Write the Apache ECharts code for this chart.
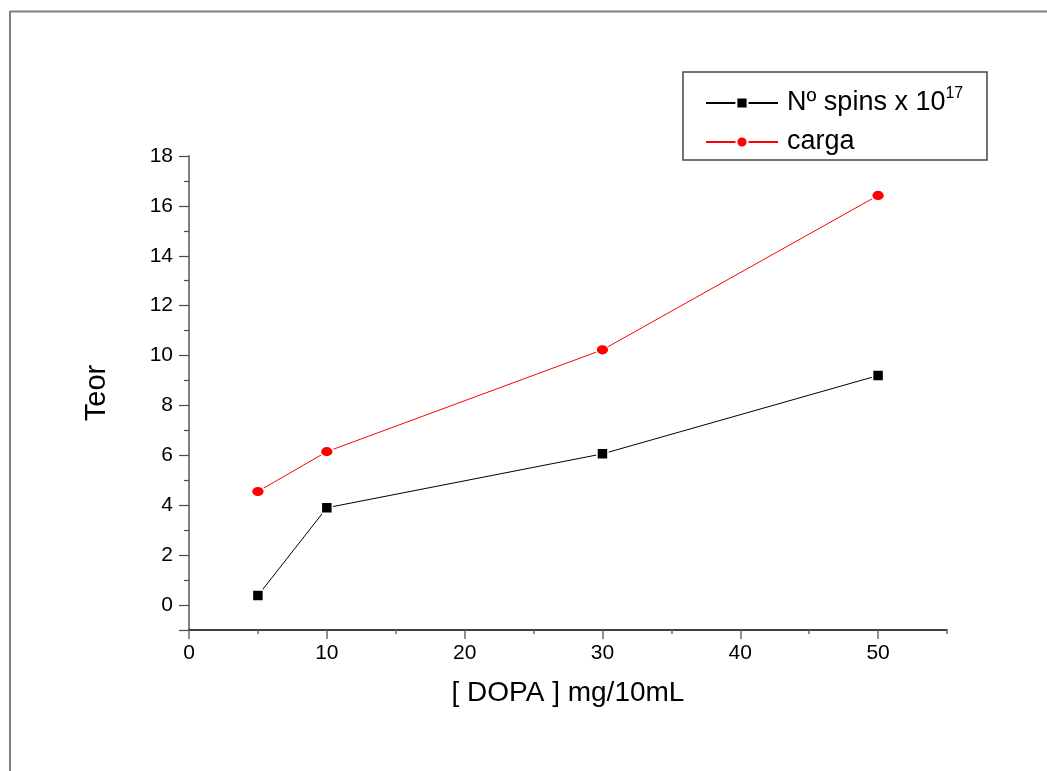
<!DOCTYPE html>
<html>
<head>
<meta charset="utf-8">
<script src="https://cdn.jsdelivr.net/npm/echarts@6/dist/echarts.min.js"></script>
<style>
  html, body { margin: 0; padding: 0; background: #fff; }
  #chart { width: 1047px; height: 771px; }
</style>
</head>
<body>
<div id="chart"></div>
<script>
// DOPA concentration (mg/10mL) and measured series
const dopa = [5, 10, 30, 50];
const spins = [0.38, 3.9, 6.06, 9.2];
const carga = [4.55, 6.15, 10.23, 16.42];

// Axis ticks
const xMajorTicks = [0, 10, 20, 30, 40, 50];
const xMinorTicks = [5, 15, 25, 35, 45, 55];
const yLabelTicks = [0, 2, 4, 6, 8, 10, 12, 14, 16, 18];
const yMajorTicks = [-1, 0, 2, 4, 6, 8, 10, 12, 14, 16, 18];
const yMinorTicks = [1, 3, 5, 7, 9, 11, 13, 15, 17];

const FONT = '"Liberation Sans", Arial, sans-serif';

const chart = echarts.init(document.getElementById('chart'), null, { renderer: 'canvas' });

const pairs = (ys) => dopa.map((x, i) => [x, ys[i]]);

chart.setOption({
  backgroundColor: '#ffffff',
  animation: false,
  grid: { left: 189, right: 100, top: 156, bottom: 141, containLabel: false },
  xAxis: [
    {
      type: 'value', min: 0, max: 55, position: 'bottom',
      axisLine: { onZero: false, lineStyle: { color: '#000', width: 1.5 } },
      axisTick: { customValues: xMajorTicks, length: 9, lineStyle: { color: '#6a6a6a', width: 1.5 } },
      axisLabel: { customValues: xMajorTicks, fontSize: 21, color: '#000', fontFamily: FONT, margin: 13 },
      splitLine: { show: false },
      name: '[ DOPA ] mg/10mL', nameLocation: 'middle', nameGap: 49,
      nameTextStyle: { fontSize: 28, color: '#000', fontFamily: FONT }
    },
    {
      type: 'value', min: 0, max: 55, position: 'bottom',
      axisLine: { show: false, onZero: false },
      axisTick: { customValues: xMinorTicks, length: 4, lineStyle: { color: '#6a6a6a', width: 1.5 } },
      axisLabel: { show: false },
      splitLine: { show: false }
    }
  ],
  yAxis: [
    {
      type: 'value', min: -1, max: 18, position: 'left',
      axisLine: { onZero: false, lineStyle: { color: '#808080', width: 2 } },
      axisTick: { customValues: yMajorTicks, length: 10, lineStyle: { color: '#4a4a4a', width: 1.2 } },
      axisLabel: { customValues: yLabelTicks, fontSize: 21, color: '#000', fontFamily: FONT, margin: 16 },
      splitLine: { show: false },
      name: 'Teor', nameLocation: 'middle', nameGap: 78,
      nameTextStyle: { fontSize: 29, color: '#000', fontFamily: FONT }
    },
    {
      type: 'value', min: -1, max: 18, position: 'left',
      axisLine: { show: false, onZero: false },
      axisTick: { customValues: yMinorTicks, length: 5, lineStyle: { color: '#4a4a4a', width: 1.2 } },
      axisLabel: { show: false },
      splitLine: { show: false }
    }
  ],
  legend: {
    orient: 'vertical',
    left: 705, top: 86,
    padding: 0,
    itemWidth: 72, itemHeight: 14, itemGap: 5,
    textStyle: {
      fontSize: 27, color: '#000', fontFamily: FONT, lineHeight: 34, padding: [0, 0, 0, 4],
      rich: {
        t: { fontSize: 27, color: '#000', fontFamily: FONT, lineHeight: 34 },
        s: { fontSize: 16, color: '#000', fontFamily: FONT, lineHeight: 18, verticalAlign: 'top' }
      }
    },
    formatter: (name) => name === 'Nº spins x 10^17' ? '{t|Nº spins x 10}{s|17}' : name,
    data: ['Nº spins x 10^17', 'carga']
  },
  graphic: [
    // page frame
    { type: 'line', shape: { x1: 10, y1: 11.5, x2: 1047, y2: 11.5 }, style: { stroke: '#808080', lineWidth: 2 }, silent: true },
    { type: 'line', shape: { x1: 10, y1: 11, x2: 10, y2: 771 }, style: { stroke: '#808080', lineWidth: 2 }, silent: true },
    // legend box
    { type: 'rect', shape: { x: 683, y: 72, width: 304, height: 88 }, style: { fill: 'none', stroke: '#444', lineWidth: 1.5 }, silent: true, z: 0 }
  ],
  series: [
    {
      name: 'Nº spins x 10^17', type: 'line', xAxisIndex: 0, yAxisIndex: 0,
      data: pairs(spins),
      symbol: 'rect', symbolSize: 11,
      lineStyle: { color: '#000', width: 1 },
      itemStyle: { color: '#000', borderColor: '#fff', borderWidth: 1.5 },
      z: 3
    },
    {
      name: 'carga', type: 'line', xAxisIndex: 0, yAxisIndex: 0,
      data: pairs(carga),
      symbol: 'circle', symbolSize: [13, 10.5],
      lineStyle: { color: '#ff0000', width: 1 },
      itemStyle: { color: '#ff0000', borderColor: '#fff', borderWidth: 1.5 },
      z: 3
    }
  ]
});
</script>
</body>
</html>
